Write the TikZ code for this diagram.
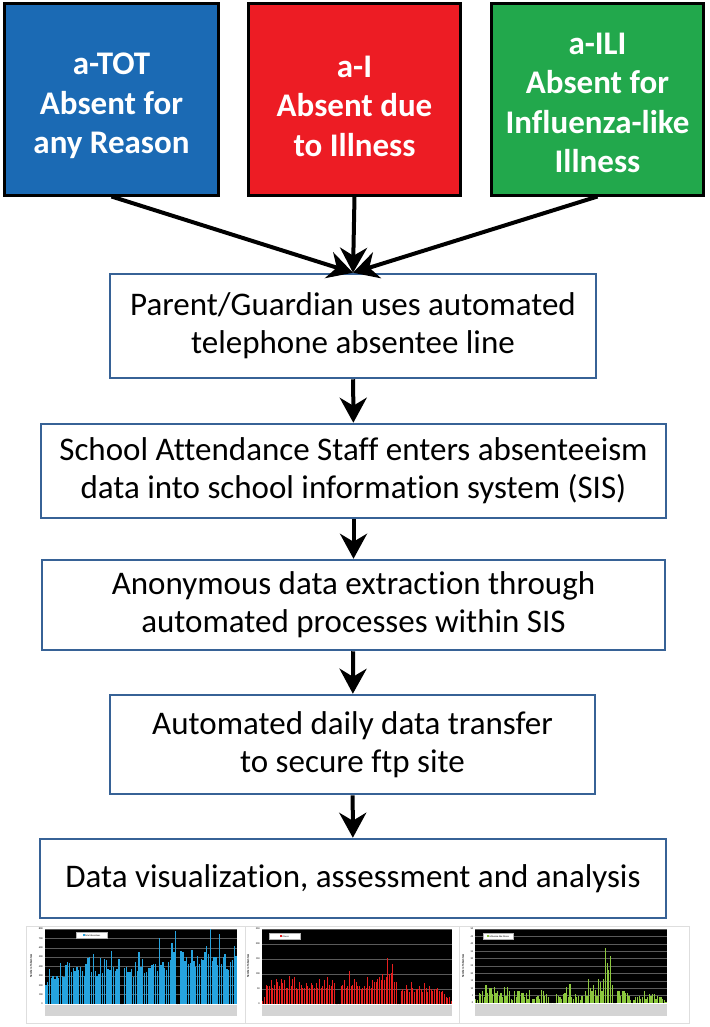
\documentclass[tikz,border=0pt]{standalone}
\usepackage{fontspec}
\setmainfont{Carlito}[Ligatures={NoCommon}]
\usetikzlibrary{arrows.meta}

\definecolor{totblue}{RGB}{27,106,180}
\definecolor{illred}{RGB}{237,28,36}
\definecolor{iligreen}{RGB}{34,168,76}
\definecolor{flowline}{RGB}{55,98,150}
\definecolor{totbar}{RGB}{38,163,222}
\definecolor{illbar}{RGB}{232,30,30}
\definecolor{ilibar}{RGB}{140,200,62}
\definecolor{gridgray}{RGB}{90,90,90}
\definecolor{framegray}{RGB}{222,222,222}
\definecolor{labelgray}{RGB}{212,212,212}

% daily absentee counts
\newcommand\totdata{200,230,370,280,300,270,300,280,440,300,290,420,450,440,340,380,350,390,360,400,350,300,430,490,500,340,530,350,300,320,490,330,480,470,370,360,570,390,350,370,480,0,0,380,400,340,340,370,290,450,350,560,400,480,330,340,380,380,420,430,430,350,700,420,450,380,360,450,470,650,550,780,0,0,570,560,460,500,430,440,580,460,390,510,430,480,470,560,620,530,800,460,500,500,420,750,430,500,530,370,360,450,470,620,510}
\newcommand\illdata{10,25,65,60,60,80,55,65,85,75,60,85,70,80,55,55,95,60,85,90,55,50,75,65,55,55,70,60,55,70,65,55,70,55,85,55,60,80,55,90,65,60,80,70,0,0,0,60,65,80,55,60,110,60,65,85,75,60,60,50,55,60,55,90,60,55,80,75,75,85,90,80,100,80,90,155,100,105,135,75,75,0,0,45,50,45,65,50,40,75,55,40,50,50,60,50,40,70,55,40,60,50,45,50,50,55,45,40,45,35,25,20,25,10}
\newcommand\ilidata{3,2,7,6,8,4,12,7,10,10,6,11,7,8,5,7,4,11,5,11,8,3,2,8,4,8,8,7,7,4,7,3,9,0,3,3,4,5,3,9,8,5,6,4,0,0,0,0,6,5,4,3,6,7,11,4,13,4,3,6,4,5,2,5,0,8,5,16,10,8,12,9,5,16,14,8,16,37,27,22,32,12,0,0,8,8,5,8,8,7,7,5,2,0,2,4,4,5,3,4,8,3,4,6,5,6,6,3,5,4,4,3,2,1}

\tikzset{
  absbox/.style={draw=black, line width=3pt, inner sep=0pt, minimum height=191pt},
  abstext/.style={text=white, align=center, inner sep=0pt,
    font=\bfseries\fontsize{33}{39.5}\selectfont},
  stepbox/.style={draw=flowline, line width=2.5pt, fill=white, align=center, inner sep=0pt,
    font=\fontsize{33}{38}\selectfont},
  flowarrow/.style={-{Stealth[length=25pt,width=27pt,inset=8pt]}, line width=4pt},
  tinytext/.style={inner sep=0pt, font=\fontsize{2.6}{3}\selectfont},
  legendbox/.style={draw=gray!60, line width=0.2pt, fill=white, inner sep=0pt,
    minimum height=5.5pt, font=\fontsize{2.4}{3}\selectfont},
}

\begin{document}
\begin{tikzpicture}[x=1pt,y=-1pt]
\useasboundingbox (0,0) rectangle (709,1027);

% three kinds of absence
\node[absbox, fill=totblue, minimum width=214pt] (tot) at (111.5,99.5) {};
\node[absbox, fill=illred, minimum width=212pt] (ill) at (354.5,99.5) {};
\node[absbox, fill=iligreen, minimum width=212pt] (ili) at (597.5,99.5) {};
\node[abstext] (tottext) at (111.5,106) {a-TOT\\Absent for\\any Reason};
\node[abstext] (illtext) at (354.5,106) {a-I\\Absent due\\to Illness};
\node[abstext] (ilitext) at (597.5,103) {a-ILI\\Absent for\\Influenza-like\\Illness};

% reporting steps
\node[stepbox, minimum width=486pt, minimum height=104pt] (parent) at (353,326) {Parent/Guardian uses automated\\telephone absentee line};
\node[stepbox, minimum width=625pt, minimum height=94pt] (staff) at (353.5,471) {School Attendance Staff enters absenteeism\\data into school information system (SIS)};
\node[stepbox, minimum width=623pt, minimum height=90pt] (extract) at (353.5,605) {Anonymous data extraction through\\automated processes within SIS};
\node[stepbox, minimum width=485pt, minimum height=99pt] (transfer) at (352.5,744.5) {Automated daily data transfer\\to secure ftp site};
\node[stepbox, minimum width=626pt, minimum height=79pt] (visual) at (353,878.5) {Data visualization, assessment and analysis};

\draw[flowarrow] (tot.south) -- (parent.north);
\draw[flowarrow] (ill.south) -- (parent.north);
\draw[flowarrow] (ili.south) -- (parent.north);
\draw[flowarrow] (parent) -- (staff);
\draw[flowarrow] (staff) -- (extract);
\draw[flowarrow] (extract) -- (transfer);
\draw[flowarrow] (transfer) -- (visual);

% chart frames
\draw[framegray, line width=0.6pt] (26,926) rectangle (245,1023);
\draw[framegray, line width=0.6pt] (245,926) rectangle (459,1023);
\draw[framegray, line width=0.6pt] (459,926) rectangle (689,1023);

% total absentees
\fill[black] (45,929) rectangle (237,1004);
\foreach \k in {1,...,8}
  \draw[gridgray, line width=0.5pt] (45,{1004-\k*75/8}) -- (237,{1004-\k*75/8});
\pgfmathsetmacro\totw{192/105}
\foreach \v [count=\i] in \totdata
  \fill[totbar] ({45+(\i-0.9)*\totw},1004) rectangle ({45+(\i-0.15)*\totw},{1004-\v/800*75});
\fill[labelgray] (45,1005) rectangle (237,1016);
\foreach \t [count=\k from 0] in {0,100,...,800}
  \node[tinytext, anchor=east] (tottick\k) at (43,{1004-\k*75/8}) {\t};
\node[tinytext, rotate=90, font=\bfseries\fontsize{2.6}{3}\selectfont] (totaxis) at (31,966) {Number of Absentees};
\node[legendbox, minimum width=31pt] (totleg) at (91.5,935) {\textcolor{totbar}{\rule{2pt}{2pt}}\,Total Absentees};

% absent due to illness
\fill[black] (262,929) rectangle (452,1004);
\foreach \k in {1,...,5}
  \draw[gridgray, line width=0.5pt] (262,{1004-\k*75/5}) -- (452,{1004-\k*75/5});
\pgfmathsetmacro\illw{190/114}
\foreach \v [count=\i] in \illdata
  \fill[illbar] ({262+(\i-0.9)*\illw},1004) rectangle ({262+(\i-0.15)*\illw},{1004-\v/250*75});
\fill[labelgray] (262,1005) rectangle (452,1016);
\foreach \t [count=\k from 0] in {0,50,...,250}
  \node[tinytext, anchor=east] (illtick\k) at (260,{1004-\k*75/5}) {\t};
\node[tinytext, rotate=90, font=\bfseries\fontsize{2.6}{3}\selectfont] (illaxis) at (248,966) {Number of Absentees};
\node[legendbox, minimum width=31pt] (illleg) at (284.5,936) {\textcolor{illbar}{\rule{2pt}{2pt}}\,Illness};

% influenza-like illness
\fill[black] (475,929) rectangle (667,1003);
\foreach \k in {1,...,10}
  \draw[gridgray, line width=0.5pt] (475,{1003-\k*74/10}) -- (667,{1003-\k*74/10});
\pgfmathsetmacro\iliw{192/114}
\foreach \v [count=\i] in \ilidata
  \fill[ilibar] ({475+(\i-0.9)*\iliw},1003) rectangle ({475+(\i-0.15)*\iliw},{1003-\v/50*74});
\fill[labelgray] (475,1004) rectangle (667,1016);
\foreach \t [count=\k from 0] in {0,5,...,50}
  \node[tinytext, anchor=east] (ilitick\k) at (473.5,{1003-\k*74/10}) {\t};
\node[tinytext, rotate=90, font=\bfseries\fontsize{2.6}{3}\selectfont] (iliaxis) at (463,966) {Number of Absentees};
\node[legendbox, minimum width=30pt] (ilileg) at (498,936) {\textcolor{ilibar}{\rule{2pt}{2pt}}\,Influenza-like Illness};
\end{tikzpicture}
\end{document}
